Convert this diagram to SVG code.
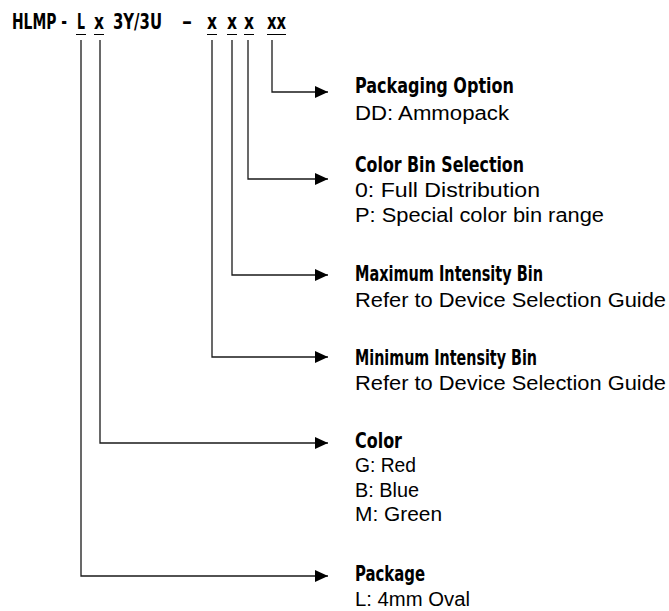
<svg xmlns="http://www.w3.org/2000/svg" width="669" height="611" viewBox="0 0 669 611">
<style>
.t{font-family:"Liberation Sans Narrow","DejaVu Sans Condensed","Liberation Sans",sans-serif;font-weight:bold;font-size:22px;fill:#000}
.h{font-family:"Liberation Sans Narrow","DejaVu Sans Condensed","Liberation Sans",sans-serif;font-weight:bold;font-size:21px;fill:#000}
.b{font-family:"Liberation Sans",Arial,sans-serif;font-size:19.5px;fill:#000}
.u{stroke:#000;stroke-width:1.2;fill:none}
.c{stroke:#1a1a1a;stroke-width:1.3;fill:none}
</style>
<defs>
<marker id="ah" markerWidth="14" markerHeight="12" refX="13" refY="6" orient="auto" markerUnits="userSpaceOnUse">
<path d="M0,0 L13,6 L0,12 Z" fill="#000"/>
</marker>
</defs>
<g id="title">
<text class="t" x="12" y="29" textLength="55" lengthAdjust="spacingAndGlyphs">HLMP -</text>
<text class="t" x="77" y="29" textLength="8" lengthAdjust="spacingAndGlyphs">L</text>
<text class="t" x="94" y="29" textLength="10" lengthAdjust="spacingAndGlyphs">x</text>
<text class="t" x="113" y="29" textLength="49" lengthAdjust="spacingAndGlyphs">3Y/3U</text>
<text class="t" x="182" y="29" textLength="10" lengthAdjust="spacingAndGlyphs">–</text>
<text class="t" x="207" y="29" textLength="10" lengthAdjust="spacingAndGlyphs">x</text>
<text class="t" x="227" y="29" textLength="10" lengthAdjust="spacingAndGlyphs">x</text>
<text class="t" x="244" y="29" textLength="10" lengthAdjust="spacingAndGlyphs">x</text>
<text class="t" x="267" y="29" textLength="19" lengthAdjust="spacingAndGlyphs">xx</text>
<path class="u" d="M76,34.5H86M94,34.5H104M207,34.5H217M227,34.5H237M244,34.5H254M267,34.5H286"/>
</g>
<g id="connectors">
<path class="c" d="M81,40V576H328" marker-end="url(#ah)"/>
<path class="c" d="M100,40V443H328" marker-end="url(#ah)"/>
<path class="c" d="M212,40V357H328" marker-end="url(#ah)"/>
<path class="c" d="M232,40V275H328" marker-end="url(#ah)"/>
<path class="c" d="M248,40V179H328" marker-end="url(#ah)"/>
<path class="c" d="M272,40V92H328" marker-end="url(#ah)"/>
</g>
<g id="packaging-option">
<text class="h" x="355" y="93" textLength="159" lengthAdjust="spacingAndGlyphs">Packaging Option</text>
<text class="b" x="355" y="120" textLength="154" lengthAdjust="spacingAndGlyphs">DD: Ammopack</text>
</g>
<g id="color-bin-selection">
<text class="h" x="355" y="172" textLength="169" lengthAdjust="spacingAndGlyphs">Color Bin Selection</text>
<text class="b" x="355" y="197" textLength="185" lengthAdjust="spacingAndGlyphs">0: Full Distribution</text>
<text class="b" x="355" y="222" textLength="249" lengthAdjust="spacingAndGlyphs">P: Special color bin range</text>
</g>
<g id="maximum-intensity-bin">
<text class="h" x="355" y="281" textLength="188" lengthAdjust="spacingAndGlyphs">Maximum Intensity Bin</text>
<text class="b" x="355" y="307" textLength="311" lengthAdjust="spacingAndGlyphs">Refer to Device Selection Guide</text>
</g>
<g id="minimum-intensity-bin">
<text class="h" x="355" y="365" textLength="182" lengthAdjust="spacingAndGlyphs">Minimum Intensity Bin</text>
<text class="b" x="355" y="390" textLength="311" lengthAdjust="spacingAndGlyphs">Refer to Device Selection Guide</text>
</g>
<g id="color">
<text class="h" x="355" y="448" textLength="47" lengthAdjust="spacingAndGlyphs">Color</text>
<text class="b" x="355" y="472" textLength="61" lengthAdjust="spacingAndGlyphs">G: Red</text>
<text class="b" x="355" y="497" textLength="64" lengthAdjust="spacingAndGlyphs">B: Blue</text>
<text class="b" x="355" y="521" textLength="87" lengthAdjust="spacingAndGlyphs">M: Green</text>
</g>
<g id="package">
<text class="h" x="355" y="581" textLength="70" lengthAdjust="spacingAndGlyphs">Package</text>
<text class="b" x="355" y="606" textLength="115" lengthAdjust="spacingAndGlyphs">L: 4mm Oval</text>
</g>
</svg>
